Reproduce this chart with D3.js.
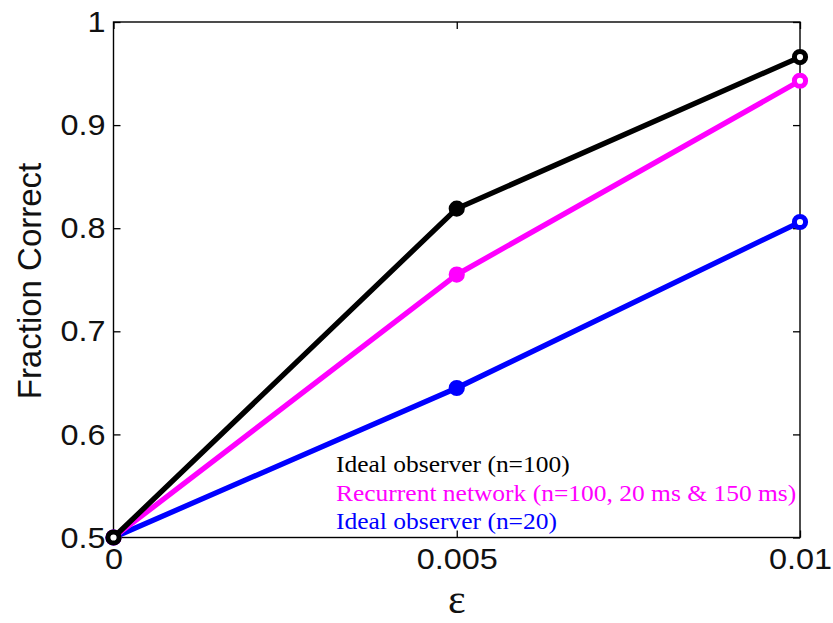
<!DOCTYPE html>
<html>
<head>
<meta charset="utf-8">
<script src="https://cdn.jsdelivr.net/npm/d3@7"></script>
<style>
  html, body { margin: 0; padding: 0; background: #fff; }
  svg { display: block; }
</style>
</head>
<body>
<svg id="chart" width="833" height="623"></svg>
<script>
// ---- data ----
const epsilonValues = [0, 0.005, 0.01];
const idealObserver100 = [0.5, 0.819, 0.966];
const recurrentNetwork = [0.5, 0.755, 0.943];
const idealObserver20 = [0.5, 0.645, 0.806];
const seriesNames = ["Ideal observer (n=100)", "Recurrent network (n=100, 20 ms & 150 ms)", "Ideal observer (n=20)"];
const seriesColors = ["#000000", "#ff00ff", "#0000ff"];
const xTickValues = [0, 0.005, 0.01];
const xTickLabels = ["0", "0.005", "0.01"];
const yTickValues = [0.5, 0.6, 0.7, 0.8, 0.9, 1];
const yTickLabels = ["0.5", "0.6", "0.7", "0.8", "0.9", "1"];
const xLabel = "\u03B5";
const yLabel = "Fraction Correct";

// ---- layout ----
const svg = d3.select("#chart");
const plotLeft = 113.5, plotRight = 800, plotTop = 22, plotBottom = 537.5;
const x = d3.scaleLinear().domain([0, 0.01]).range([plotLeft, plotRight]);
const y = d3.scaleLinear().domain([0.5, 1]).range([plotBottom, plotTop]);
const stretch = 1.08;
const tickLen = 7;

// frame
svg.append("rect")
  .attr("x", plotLeft).attr("y", plotTop)
  .attr("width", plotRight - plotLeft).attr("height", plotBottom - plotTop)
  .attr("fill", "none").attr("stroke", "#000").attr("stroke-width", 1.4);

function styleAxis(g) {
  g.select(".domain").remove();
  g.selectAll(".tick line").attr("stroke", "#000").attr("stroke-width", 1.3);
  g.selectAll(".tick text")
    .attr("fill", "#111")
    .style("font-family", "'Liberation Sans', Arial, sans-serif")
    .style("font-size", "30px");
}

const yFmt = d => yTickLabels[yTickValues.indexOf(d)];
const xFmt = d => xTickLabels[xTickValues.indexOf(d)];

svg.append("g").attr("transform", `translate(${plotLeft},0)`)
  .call(d3.axisLeft(y).tickValues(yTickValues).tickFormat(yFmt).tickSize(-tickLen).tickPadding(8))
  .call(styleAxis);
svg.append("g").attr("transform", `translate(${plotRight},0)`)
  .call(d3.axisRight(y).tickValues(yTickValues).tickFormat("").tickSize(-tickLen))
  .call(styleAxis);
svg.append("g").attr("transform", `translate(0,${plotBottom})`)
  .call(d3.axisBottom(x).tickValues(xTickValues).tickFormat(xFmt).tickSize(-tickLen).tickPadding(10))
  .call(styleAxis)
  .selectAll(".tick text").attr("dy", "0.71em");
svg.append("g").attr("transform", `translate(0,${plotTop})`)
  .call(d3.axisTop(x).tickValues(xTickValues).tickFormat("").tickSize(-tickLen))
  .call(styleAxis);

// series
const seriesData = [idealObserver100, recurrentNetwork, idealObserver20];
const line = d3.line().x((d, i) => x(epsilonValues[i])).y(d => y(d));
const drawOrder = [2, 1, 0];
drawOrder.forEach(k => {
  const vals = seriesData[k];
  const g = svg.append("g");
  g.append("path").datum(vals)
    .attr("d", line)
    .attr("fill", "none")
    .attr("stroke", seriesColors[k])
    .attr("stroke-width", 5.3)
    .attr("stroke-linejoin", "round");
  g.selectAll("circle").data(vals).enter().append("circle")
    .attr("cx", (d, i) => x(epsilonValues[i]))
    .attr("cy", d => y(d))
    .attr("r", 5.6)
    .attr("fill", (d, i) => i === 1 ? seriesColors[k] : "#fff")
    .attr("stroke", seriesColors[k])
    .attr("stroke-width", 5);
});

// legend
const legendBaselines = [472, 501, 529];
seriesNames.forEach((name, i) => {
  svg.append("text")
    .attr("class", "legend")
    .attr("x", 336).attr("y", legendBaselines[i])
    .attr("fill", seriesColors[i])
    .style("font-family", "'Liberation Serif', 'Times New Roman', serif")
    .style("font-size", "23.6px")
    .text(name);
});

// axis labels
svg.append("text")
  .attr("x", 456.75).attr("y", 613)
  .attr("text-anchor", "middle")
  .style("font-family", "'Liberation Serif', 'Times New Roman', serif")
  .style("font-size", "42px")
  .attr("fill", "#111")
  .text(xLabel);

svg.append("text")
  .attr("transform", "translate(41,281) rotate(-90)")
  .attr("text-anchor", "middle")
  .style("font-family", "'Liberation Sans', Arial, sans-serif")
  .style("font-size", "33px")
  .attr("fill", "#111")
  .text(yLabel);

// horizontal stretch of non-rotated text, as in the reference
svg.selectAll(".tick text, text.legend").each(function() {
  const len = this.getComputedTextLength();
  if (len > 0) {
    d3.select(this).attr("textLength", len * stretch).attr("lengthAdjust", "spacingAndGlyphs");
  }
});
</script>
</body>
</html>
